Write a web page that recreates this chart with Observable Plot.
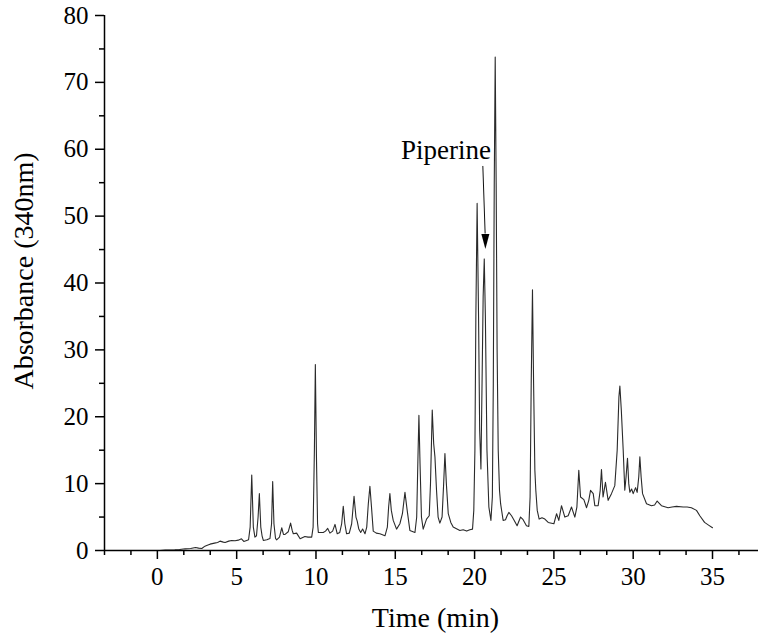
<!DOCTYPE html>
<html>
<head>
<meta charset="utf-8">
<script src="https://cdn.jsdelivr.net/npm/d3@7"></script>
<script src="https://cdn.jsdelivr.net/npm/@observablehq/plot@0.6"></script>
<style>
  html, body { margin: 0; padding: 0; background: #fff; }
</style>
</head>
<body>
<div id="chart"></div>
<script>
// Retention time (min)
const times = [
  0.17, 0.5, 1.1, 1.4, 1.75, 2.1, 2.4, 2.6, 2.8, 3.0, 3.11, 3.32, 3.6, 3.8, 3.95, 4.16, 4.27, 4.5, 4.69, 4.9,
  5.1, 5.3, 5.45, 5.63, 5.75, 5.85, 5.95, 6.05, 6.15, 6.25, 6.35, 6.43, 6.52, 6.6, 6.68, 6.9, 7.1, 7.2, 7.27, 7.35,
  7.45, 7.52, 7.7, 7.84, 7.95, 8.05, 8.25, 8.4, 8.5, 8.57, 8.78, 9.0, 9.3, 9.5, 9.73, 9.82, 9.9, 9.96, 10.03, 10.1,
  10.15, 10.46, 10.6, 10.74, 10.88, 11.05, 11.2, 11.34, 11.5, 11.62, 11.72, 11.82, 11.93, 12.1, 12.25, 12.4, 12.52, 12.6, 12.7, 12.82,
  12.94, 13.09, 13.2, 13.3, 13.4, 13.5, 13.61, 13.8, 14.03, 14.35, 14.5, 14.58, 14.66, 14.75, 14.87, 15.08, 15.29, 15.45, 15.61, 15.75,
  15.92, 16.24, 16.35, 16.43, 16.49, 16.56, 16.65, 16.76, 16.97, 17.14, 17.22, 17.33, 17.42, 17.5, 17.6, 17.7, 17.81, 17.95, 18.05, 18.13,
  18.22, 18.34, 18.5, 18.65, 19.07, 19.28, 19.5, 19.7, 19.87, 19.95, 20.02, 20.08, 20.16, 20.25, 20.32, 20.4, 20.47, 20.54, 20.61, 20.68,
  20.78, 20.9, 21.03, 21.12, 21.18, 21.24, 21.3, 21.36, 21.42, 21.49, 21.57, 21.64, 21.8, 21.95, 22.05, 22.16, 22.33, 22.5, 22.68, 22.9,
  23.06, 23.27, 23.42, 23.5, 23.57, 23.65, 23.72, 23.8, 23.86, 23.95, 24.07, 24.25, 24.43, 24.64, 25.0, 25.17, 25.31, 25.48, 25.69, 25.9,
  26.11, 26.32, 26.45, 26.57, 26.68, 26.89, 27.06, 27.2, 27.31, 27.48, 27.58, 27.79, 27.92, 28.0, 28.1, 28.25, 28.42, 28.63, 28.84, 28.99,
  29.1, 29.16, 29.25, 29.37, 29.47, 29.55, 29.64, 29.72, 29.79, 29.9, 30.0, 30.15, 30.25, 30.35, 30.42, 30.5, 30.59, 30.84, 31.15, 31.35,
  31.51, 31.78, 32.2, 32.45, 32.73, 33.15, 33.4, 33.67, 33.99, 34.2, 34.5, 34.75, 35.0
];
// Absorbance at 340 nm
const absorbance = [
  0.0, 0.05, 0.1, 0.15, 0.25, 0.3, 0.45, 0.35, 0.3, 0.65, 0.75, 0.95, 1.1, 1.2, 1.4, 1.25, 1.2, 1.4, 1.5, 1.45,
  1.55, 1.75, 1.35, 1.5, 1.6, 3.5, 11.3, 3.5, 2.0, 2.2, 5.0, 8.5, 3.5, 2.2, 1.5, 1.6, 1.8, 4.0, 10.3, 4.0,
  1.8, 1.6, 2.0, 3.4, 2.4, 2.4, 2.8, 4.1, 3.0, 2.5, 2.6, 1.75, 2.1, 2.0, 2.0, 3.5, 15.0, 27.8, 14.0, 4.0,
  2.7, 2.7, 2.9, 3.3, 2.6, 2.9, 3.9, 2.5, 2.7, 4.0, 6.6, 4.0, 2.5, 2.6, 4.0, 8.1, 5.0, 4.4, 3.2, 2.7,
  3.2, 2.5, 3.5, 7.0, 9.6, 6.5, 2.9, 2.6, 2.5, 2.2, 3.5, 6.5, 8.5, 6.0, 4.5, 3.2, 4.0, 5.5, 8.7, 6.0,
  3.0, 2.7, 5.0, 14.0, 20.2, 13.0, 5.0, 3.2, 4.7, 5.2, 10.0, 21.0, 16.0, 14.0, 9.0, 5.0, 4.1, 5.0, 10.0, 14.5,
  10.0, 5.5, 4.2, 3.5, 3.0, 3.1, 2.9, 3.1, 3.2, 6.0, 15.0, 35.0, 51.9, 35.0, 18.0, 12.2, 25.0, 38.0, 43.6, 35.0,
  15.0, 6.5, 4.5, 8.0, 25.0, 55.0, 73.8, 55.0, 30.0, 15.0, 9.0, 7.0, 4.5, 4.6, 5.2, 5.7, 5.2, 4.5, 3.7, 5.0,
  4.6, 3.7, 3.6, 8.0, 25.0, 39.0, 25.0, 12.0, 9.0, 6.0, 4.7, 4.9, 4.7, 4.2, 4.0, 5.5, 4.5, 6.7, 5.0, 5.2,
  6.5, 5.0, 6.5, 12.0, 8.0, 7.6, 6.4, 7.5, 9.0, 8.5, 6.7, 6.7, 9.0, 12.1, 8.0, 10.2, 7.5, 8.5, 9.7, 15.0,
  23.0, 24.6, 21.0, 15.0, 9.0, 11.0, 13.8, 10.0, 8.7, 9.2, 8.5, 9.4, 8.7, 11.0, 14.0, 11.0, 8.5, 7.0, 6.7, 6.8,
  7.4, 6.7, 6.4, 6.5, 6.6, 6.5, 6.5, 6.4, 6.0, 5.2, 4.2, 3.8, 3.4
];

// Axis ticks and labels
const xMajorTicks = [0, 5, 10, 15, 20, 25, 30, 35];
const xMinorTicks = [-10/3, -5/3, 5/3, 10/3, 20/3, 25/3, 35/3, 40/3, 50/3, 55/3, 65/3, 70/3, 80/3, 85/3, 95/3, 100/3, 110/3];
const yMajorTicks = [0, 10, 20, 30, 40, 50, 60, 70, 80];
const yMinorTicks = [5, 15, 25, 35, 45, 55, 65, 75];
const xTitle = ["Time (min)"];
const yTitle = ["Absorbance (340nm)"];

// Annotation (Piperine peak)
const annLabel = ["Piperine"];
const annLabelX = [18.2];
const annLabelY = [59.8];
const arrowStartX = [20.52];
const arrowStartY = [57.5];
const arrowBaseX = [20.665];
const arrowBaseY = [47.4];
const arrowTipX = [20.68];
const arrowTipY = [45.1];

const data = times.map((t, i) => ({t, a: absorbance[i]}));
const ann = annLabel.map((s, i) => ({s, x: annLabelX[i], y: annLabelY[i]}));
const arrows = arrowStartX.map((x, i) => ({
  x1: x, y1: arrowStartY[i], x2: arrowBaseX[i], y2: arrowBaseY[i], tx: arrowTipX[i], ty: arrowTipY[i]
}));

const headSymbol = {
  draw(ctx) {
    ctx.moveTo(0, 0);
    ctx.lineTo(-4, -15);
    ctx.lineTo(4, -15);
    ctx.closePath();
  }
};

const FONT = "'Liberation Serif', 'Times New Roman', serif";

const chart = Plot.plot({
  width: 758,
  height: 636,
  marginLeft: 104,
  marginRight: 0,
  marginTop: 15,
  marginBottom: 86,
  style: {fontFamily: FONT, fontSize: "25px", color: "#000", background: "#fff"},
  x: {domain: [-10/3, 37.9]},
  y: {domain: [0, 80]},
  marks: [
    Plot.line(data, {x: "t", y: "a", stroke: "#2a2a2a", strokeWidth: 1.1}),
    Plot.link(arrows, {x1: "x1", y1: "y1", x2: "x2", y2: "y2", stroke: "#111", strokeWidth: 1}),
    Plot.dot(arrows, {x: "tx", y: "ty", symbol: headSymbol, fill: "#000", stroke: null, r: 5}),
    Plot.text(ann, {x: "x", y: "y", text: "s", fontSize: 27, fill: "#000"}),
    // axes
    Plot.axisX({ticks: xMajorTicks, tickSize: 9, tickPadding: 8, strokeWidth: 1.5, label: null, fontSize: 25, tickFormat: d => String(d)}),
    Plot.axisX({ticks: xMinorTicks, tickSize: 5, strokeWidth: 1.5, label: null, tickFormat: null, text: null}),
    Plot.axisY({ticks: yMajorTicks, tickSize: 9, tickPadding: 7, strokeWidth: 1.5, label: null, fontSize: 25, tickFormat: d => String(d)}),
    Plot.axisY({ticks: yMinorTicks, tickSize: 5, strokeWidth: 1.5, label: null, tickFormat: null, text: null}),
    Plot.ruleY([0], {stroke: "#000", strokeWidth: 1.5}),
    Plot.ruleX([-10/3], {stroke: "#000", strokeWidth: 1.5}),
    Plot.text(xTitle, {frameAnchor: "bottom", text: d => d, dy: 68, dx: 4, fontSize: 28, fill: "#000", lineAnchor: "middle", textAnchor: "middle"}),
    Plot.text(yTitle, {frameAnchor: "left", text: d => d, dx: -80, dy: -12, rotate: -90, fontSize: 28, fill: "#000", lineAnchor: "middle", textAnchor: "middle"})
  ]
});
document.getElementById("chart").appendChild(chart);
</script>
</body>
</html>
